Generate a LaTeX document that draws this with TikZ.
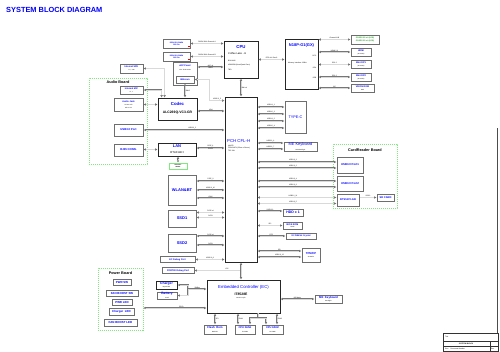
\documentclass[tikz,border=0pt]{standalone}
\usepackage{fontspec}
\setmainfont{Liberation Sans}
\usepackage{tikz}
\usetikzlibrary{arrows.meta}
\definecolor{inkblue}{HTML}{0000FF}
\definecolor{brdgreen}{HTML}{7FE87F}
\definecolor{ramgreen}{HTML}{1FA01F}
\definecolor{busgray}{HTML}{767676}
\definecolor{boxgray}{HTML}{6E6E6E}
\newcommand\fsize[2]{\fontsize{#1}{#2}\selectfont}
\newcommand\tinyline[1]{{\fsize{1.5}{1.9}\mdseries\color{black}#1}}

\begin{document}
\begin{tikzpicture}[x=1pt,y=-1pt,
  box/.style={draw=boxgray,line width=1pt,fill=white,inner sep=0pt,align=center,
              text=inkblue,font={\fsize{2.3}{2.8}\bfseries}},
  chip/.style={draw=black!85,line width=0.8pt,fill=white,inner sep=0pt,align=center},
  board/.style={draw=brdgreen,line width=0.5pt,dash pattern=on 1.2pt off 0.8pt,inner sep=0pt},
  bus/.style={draw=busgray,double=white!85!black,double distance=0.6pt,line width=0.5pt},
  link/.style={bus,{Latex[open,length=2.4pt,width=2.6pt]}-{Latex[open,length=2.4pt,width=2.6pt]}},
  lto/.style={bus,-{Latex[open,length=2.4pt,width=2.6pt]}},
  lfrom/.style={bus,{Latex[open,length=2.4pt,width=2.6pt]}-},
  tag/.style={font={\fsize{1.7}{2}},inner sep=0.5pt},
  hd/.style={text=inkblue,font={\fsize{4.3}{5}\bfseries},inner sep=0pt},
  note/.style={font={\fsize{1.7}{2.2}},inner sep=0pt,align=left,anchor=west},
  brdname/.style={font={\fsize{3.8}{4}\bfseries},inner sep=0pt}
]
\fill[white] (0,0) rectangle (500,351);
\useasboundingbox (0,0) rectangle (500,351);

% title
\node[anchor=west,text=inkblue,font={\fsize{7.4}{8}\bfseries},inner sep=0pt] (title) at (6,10) {SYSTEM BLOCK DIAGRAM};

% boards
\node[board,minimum width=58pt,minimum height=86pt] (audbrd) at (118,121) {};
\node[brdname] (audlbl) at (118,82.5) {Audio Board};
\node[board,minimum width=64pt,minimum height=64pt] (cardbrd) at (365,176) {};
\node[brdname] (cardlbl) at (365,150) {CardReader Board};
\node[board,minimum width=45pt,minimum height=62pt] (pwrbrd) at (120.5,299) {};
\node[brdname] (pwrlbl) at (120.5,273) {Power Board};

% memory, cpu, gpu
\node[box,minimum width=27pt,minimum height=9pt,font={\fsize{1.8}{2.2}\bfseries}] (dimma) at (176.5,43.5) {DDR4 SO-DIMM\\260 Pin};
\node[box,minimum width=27pt,minimum height=9pt,font={\fsize{1.8}{2.2}\bfseries}] (dimmb) at (176.5,56.5) {DDR4 SO-DIMM\\260 Pin};
\fill[red] ([shift={(-2.5pt,1.2pt)}]dimma.south east) rectangle ++(1.6,-1.6);
\fill[red] ([shift={(-2.5pt,1.2pt)}]dimmb.south east) rectangle ++(1.6,-1.6);

\node[chip,minimum width=34pt,minimum height=37pt] (cpu) at (241,59.5) {};
\node[hd] (cpuhd) at (241,47) {CPU};
\node[note,font={\fsize{2.6}{3}}] (cpuname) at (228,54) {Coffee Lake - H};
\node[note] (cpupkg) at (228,61) {BGA1440};
\node[note] (cpupwr) at (228,65.5) {45W/35W (Hexa/Quad Core)};
\node[note] (cpuver) at (228,70) {TBD};

\node[chip,minimum width=33pt,minimum height=50pt] (gpu) at (301.5,64) {};
\node[hd,font={\fsize{4}{5}\bfseries}] (gpuhd) at (301.5,45) {N18P-G1(GX)};
\node[note] (gpumem) at (288,63) {Memory Interface 128bit};
\node[tag,anchor=east] (gpudpc) at (317,56) {DPC};
\node[tag,anchor=east] (gpudpa) at (317,68) {DPA};
\node[tag,anchor=east] (gpudpb) at (317,78) {DPB};

\node[box,minimum width=28pt,minimum height=9pt,text=ramgreen,font={\fsize{1.9}{2.3}\bfseries}] (vram) at (365,39.5) {GDDR5 2G x4 (4GB)\\GDDR5 2G x4 (4GB)};
\node[box,minimum width=20pt,minimum height=8pt] (hdmi) at (361,52) {HDMI\\\tinyline{(4K 60Hz)}};
\node[box,minimum width=20pt,minimum height=7.5pt] (mdpa) at (361,64.5) {Mini DP1\\\tinyline{(4K 60Hz)}};
\node[box,minimum width=20pt,minimum height=8pt] (mdpb) at (361,77) {Mini DP2\\\tinyline{(4K 60Hz)}};
\node[box,minimum width=23pt,minimum height=8pt] (vbios) at (362.5,88) {VBIOS ROM\\\tinyline{4Mb}};

% audio, panel
\node[box,minimum width=23pt,minimum height=9pt] (spk) at (131.5,68.5) {Internal SPK\\\tinyline{R , L 2W}};
\node[box,minimum width=23pt,minimum height=8pt] (mic) at (131.5,90) {Internal MIC\\\tinyline{R , L}};
\node[box,minimum width=29pt,minimum height=13pt] (jack) at (128.5,104.5) {Audio Jack\\\tinyline{HP Out L/R}\\\tinyline{Mic In L/R}};
\node[box,minimum width=29pt,minimum height=12pt,font={\fsize{2.8}{3.2}\bfseries}] (usbp) at (128.5,130) {USB3.0 Port};
\node[box,minimum width=29pt,minimum height=12pt,font={\fsize{2.8}{3.2}\bfseries}] (rj45) at (128.5,150) {RJ45 CONN.};

\node[chip,minimum width=39pt,minimum height=22pt] (codec) at (177.5,109) {};
\node[hd] (codechd) at (177.5,104) {Codec};
\node[font={\fsize{3.4}{4}\bfseries},inner sep=0pt] (codecid) at (177.5,112.5) {ALC269Q-VC3-GR};

\node[box,minimum width=24pt,minimum height=23pt] (edp) at (185,73.5) {};
\node[text=inkblue,font={\fsize{2.3}{2.8}\bfseries},inner sep=0pt] (edphd) at (185,65.5) {eDP Panel};
\node[inner sep=0pt] (edpsub) at (185,69.5) {\tinyline{15.6'' FHD 144Hz}};
\node[box,minimum width=18pt,minimum height=7pt] (webcam) at (185,79.5) {Webcam};

% pch and left side
\node[chip,minimum width=32pt,minimum height=165pt] (pch) at (241,179.5) {};
\node[text=inkblue,font={\fsize{4.3}{5}},inner sep=0pt,anchor=west] (pchhd) at (227,141) {PCH CFL-H};
\node[note] (pchsku) at (228,145.5) {HM370};
\node[note] (pchpkg) at (228,148) {FCBGA874 (25mm x 24mm)};
\node[note] (pchpwr) at (228,150.5) {TDP 3W};

\node[chip,minimum width=38pt,minimum height=13pt] (lan) at (177,149.5) {};
\node[hd,font={\fsize{4}{5}\bfseries}] (lanhd) at (177,146) {LAN};
\node[font={\fsize{2.8}{3.2}},inner sep=0pt] (lanid) at (177,152.5) {RTL8111H};
\node[box,draw=brdgreen,line width=0.7pt,minimum width=18pt,minimum height=6pt,text=black,font={\fsize{1.5}{1.8}\bfseries}] (xtal) at (178,166) {CRYSTAL\\25MHz};
\node[box,minimum width=28pt,minimum height=30pt,font={\fsize{4}{5}\bfseries}] (wlan) at (182,190) {WLAN\&BT};
\node[box,minimum width=28pt,minimum height=17pt,font={\fsize{4}{5}\bfseries}] (ssda) at (182,218.5) {SSD1};
\node[box,minimum width=28pt,minimum height=18pt,font={\fsize{4}{5}\bfseries}] (ssdb) at (182,243) {SSD2};
\node[box,minimum width=35pt,minimum height=6pt] (kbdbg) at (177.5,259.5) {EC Debug Port};
\node[box,minimum width=32pt,minimum height=6pt] (dbg80) at (178,270.5) {PORT80 Debug Port};

% ec and around
\node[chip,minimum width=73pt,minimum height=33pt] (ec) at (243.5,296.5) {};
\node[text=inkblue,font={\fsize{4.3}{5}},inner sep=0pt] (echd) at (243.5,287.5) {Embedded Controller (EC)};
\node[font={\fsize{3.4}{4}\bfseries},inner sep=0pt] (ecid) at (241,294) {IT8528E};
\node[inner sep=0pt] (ecpkg) at (241,298.5) {\tinyline{128 Pin LQFP}};

\node[chip,line width=1pt,minimum width=21pt,minimum height=8pt,text=inkblue,font={\fsize{3.3}{3.3}\bfseries}] (chg) at (166.5,285) {Charger\\\tinyline{BQ24780S}};
\node[box,minimum width=20pt,minimum height=7pt,font={\fsize{3.3}{3.3}\bfseries}] (batt) at (167,295.5) {Battery\\\tinyline{3 Cell}};

\node[box,minimum width=22pt,minimum height=9pt,font={\fsize{2.8}{3.2}\bfseries}] (flash) at (215,329.5) {Flash\ \ Rom\\\tinyline{8Mb SPI}};
\node[box,minimum width=20pt,minimum height=9pt,font={\fsize{2.6}{3.2}\bfseries}] (fana) at (245,329.5) {CPU FAN1\\\tinyline{5V PWM}};
\node[box,minimum width=21pt,minimum height=9pt,font={\fsize{2.6}{3.2}\bfseries}] (fanb) at (272.5,329.5) {CPU FAN2\\\tinyline{5V PWM}};
\node[box,minimum width=27pt,minimum height=8pt,font={\fsize{2.8}{3.2}\bfseries}] (kbint) at (328.5,299) {ME\ \ Keyboard\\\tinyline{Backlight}};

\node[box,minimum width=18pt,minimum height=6pt,font={\fsize{2.9}{3.2}\bfseries}] (pwrsw) at (122,282) {PWR SW};
\node[box,minimum width=32pt,minimum height=6pt,font={\fsize{2.9}{3.2}\bfseries}] (boostsw) at (122,293) {FAN BOOST SW};
\node[box,minimum width=20pt,minimum height=6pt,font={\fsize{2.9}{3.2}\bfseries}] (pwrled) at (122,302) {PWR LED};
\node[box,minimum width=25pt,minimum height=7pt,font={\fsize{2.9}{3.2}\bfseries}] (chgled) at (121.5,311.5) {Charger\ \ LED};
\node[box,minimum width=33pt,minimum height=7pt,font={\fsize{2.9}{3.2}\bfseries}] (boostled) at (120.5,322.5) {FAN BOOST LED};

% right of pch
\node[box,minimum width=21pt,minimum height=32pt,font={\fsize{3.8}{4.5}}] (typec) at (295.5,117) {TYPE-C};
\node[box,minimum width=33pt,minimum height=9pt,font={\fsize{3.9}{4.5}}] (mekb) at (300.5,146.5) {ME Keyboard\\\tinyline{RGB Backlight}};
\node[box,minimum width=26pt,minimum height=16pt,font={\fsize{2.8}{3}\bfseries}] (usbca) at (350,165) {USB3.0 Port1};
\node[box,minimum width=26pt,minimum height=15pt,font={\fsize{2.8}{3}\bfseries}] (usbcb) at (350,183.5) {USB3.0 Port2};
\node[box,minimum width=22pt,minimum height=12pt,font={\fsize{2.6}{3}\bfseries}] (rts) at (348,200) {RTS5170-GR};
\node[box,minimum width=17pt,minimum height=7pt,font={\fsize{2.6}{3}\bfseries}] (sdcard) at (385.5,197.5) {SD CARD};
\node[box,minimum width=20pt,minimum height=7pt,font={\fsize{3.5}{4}\bfseries}] (hdd) at (293,212.5) {HDD x 1};
\node[box,minimum width=19pt,minimum height=7pt,font={\fsize{2.3}{2.6}\bfseries}] (biosrom) at (292.5,225.5) {BIOS ROM\\\tinyline{16Mb}};
\node[box,minimum width=30pt,minimum height=6pt,font={\fsize{2.2}{2.6}\bfseries}] (rtcx) at (301,236) {32.768KHz Crystal};
\node[box,minimum width=18pt,minimum height=14pt,font={\fsize{2.8}{3.2}\bfseries}] (tpm) at (311,255) {TPM/FP\\\tinyline{SLB9670}};

% memory and graphics links
\draw[link] (dimma) -- (dimma -| cpu.west) node[tag,above,midway] {DDR4 2666 Channel A};
\draw[link] (dimmb) -- (dimmb -| cpu.west) node[tag,above,midway] {DDR4 2666 Channel B};
\draw[link] ([yshift=6.5pt]edp.east) -- ([yshift=6.5pt]edp.east -| cpu.west)
  node[tag,above,midway] {eDP x4} node[tag,below,midway] {HBR2};
\draw[link] (cpu.east) -- (cpu.east -| gpu.west) node[tag,above,midway] {PEG x16 Gen3};
\draw[link] (cpu.south) -- (pch.north) node[tag,right,midway] {DMI x4};
\draw[link] (gpu.east |- vram) -- (vram) node[tag,above,midway] {Channel A/B};
\draw[link] (gpu.east |- hdmi) -- (hdmi) node[tag,above,midway] {HDMI 2.0};
\draw[link] (gpu.east |- mdpa) -- (mdpa) node[tag,above,midway] {DP1.2};
\draw[link] (gpu.east |- mdpb) -- (mdpb) node[tag,above,midway] {DP1.2};
\draw[link] (gpu.east |- vbios) -- (vbios) node[tag,above,midway] {I2C};

% audio links
\draw[link] (spk.east) -| ([xshift=7pt]codec.north west);
\draw[link] (mic.east) -| ([xshift=4pt]codec.north west);
\draw[link] (jack.east) -- (jack.east -| codec.west);
\draw[link] (webcam.south) -- (webcam.south |- codec.north) node[tag,right,midway] {DMIC};
\draw[link] ([yshift=-2pt]codec.east) -- ([yshift=-2pt]codec.east -| pch.west) node[tag,above,midway] {HDA};
\draw[link] (webcam.east) -| ([xshift=-15pt,yshift=-4pt]pch.north west) -- ([yshift=-4pt]pch.north west) node[tag,above,midway] {USB2.0\_5};

% left of pch
\draw[link] (usbp.east) -- (usbp.east -| pch.west) node[tag,above,pos=0.6] {USB3.0\_2};
\draw[link] ([yshift=1.5pt]lan.east) -- ([yshift=1.5pt]lan.east -| pch.west) node[tag,above,midway] {PCIE\_6} node[tag,below,midway] {GLAN};
\draw[link] (lan.west) -- (lan.west -| rj45.east);
\draw[link] (xtal.north |- lan.south) -- (xtal.north);
\draw[link] ([yshift=9pt]wlan.east) -- ([yshift=9pt]wlan.east -| pch.west) node[tag,above,midway] {PCIE\_9};
\draw[link] (wlan.east) -- (wlan.east -| pch.west) node[tag,above,midway] {USB2.0\_10};
\draw[link] ([yshift=-8pt]wlan.east) -- ([yshift=-8pt]wlan.east -| pch.west) node[tag,above,midway] {CNVi};
\draw[link] ([yshift=6pt]ssda.east) -- ([yshift=6pt]ssda.east -| pch.west) node[tag,above,midway] {PCIE x4};
\draw[link] ([yshift=1pt]ssda.east) -- ([yshift=1pt]ssda.east -| pch.west) node[tag,above,midway] {SATA};
\draw[link] ([yshift=7pt]ssdb.east) -- ([yshift=7pt]ssdb.east -| pch.west) node[tag,above,midway] {PCIE x4};
\draw[link] ([yshift=-2pt]ssdb.east) -- ([yshift=-2pt]ssdb.east -| pch.west) node[tag,above,midway] {SATA};
\draw[link] (kbdbg.east) -- (kbdbg.east -| pch.west) node[tag,above,midway] {USB2.0\_8};
\draw[lfrom] (dbg80.east) -- (dbg80.east -| pch.south) node[tag,above,pos=0.7] {LPC};
\draw[link] (pch.south) -- (pch.south |- ec.north);

% ec links
\coordinate (smb) at (188,289);
\draw[lfrom] (chg.east) -| (smb);
\draw[lfrom] (batt.east) -| (smb);
\draw[lto] (smb) -- (smb -| ec.west) node[tag,above,midway] {SMBus};
\draw[link] ([yshift=-11.5pt]ec.west) -- ([yshift=-11.5pt]ec.west -| pwrbrd.east) node[tag,above,pos=0.4] {GPIO};
\draw[link] ([yshift=-2.5pt]ec.east) -- ([yshift=-2.5pt]ec.east -| kbint.west) node[tag,above,midway] {KB Matrix};
\draw[link] (flash.north |- ec.south) -- (flash.north) node[tag,right,midway] {SPI};
\draw[link] ([xshift=-7pt]fana.north |- ec.south) -- ([xshift=-7pt]fana.north) node[tag,right,midway] {FAN1};
\coordinate (fanfork) at (258,318);
\draw[bus] (fanfork |- ec.south) -- (fanfork);
\draw[lto] (fanfork) -| ([xshift=5pt]fana.north);
\draw[lto] (fanfork) -| ([xshift=-6.5pt]fanb.north);
\draw[link] ([xshift=4.5pt]fanb.north |- ec.south) -- ([xshift=4.5pt]fanb.north) node[tag,right,midway] {FAN2};

% right of pch links
\draw[link] ([yshift=10pt]typec.west -| pch.east) -- ([yshift=10pt]typec.west) node[tag,above,midway] {USB3.1\_1};
\draw[link] ([yshift=3pt]typec.west -| pch.east) -- ([yshift=3pt]typec.west) node[tag,above,midway] {USB2.0\_3};
\draw[link] ([yshift=-4pt]typec.west -| pch.east) -- ([yshift=-4pt]typec.west) node[tag,above,midway] {USB3.1\_2};
\draw[link] ([yshift=-11pt]typec.west -| pch.east) -- ([yshift=-11pt]typec.west) node[tag,above,midway] {USB2.0\_4};
\draw[link] ([yshift=3.5pt]mekb.west -| pch.east) -- ([yshift=3.5pt]mekb.west) node[tag,above,midway] {USB2.0\_6};
\draw[link] ([yshift=-2.5pt]mekb.west -| pch.east) -- ([yshift=-2.5pt]mekb.west) node[tag,above,midway] {USB2.0\_7};
\draw[link] ([yshift=3pt]usbca.west -| pch.east) -- ([yshift=3pt]usbca.west) node[tag,above,pos=0.45] {USB3.0\_3};
\draw[link] ([yshift=-3pt]usbca.west -| pch.east) -- ([yshift=-3pt]usbca.west) node[tag,above,pos=0.45] {USB2.0\_2};
\draw[link] ([yshift=2.5pt]usbcb.west -| pch.east) -- ([yshift=2.5pt]usbcb.west) node[tag,above,pos=0.45] {USB3.0\_4};
\draw[link] ([yshift=-3.5pt]usbcb.west -| pch.east) -- ([yshift=-3.5pt]usbcb.west) node[tag,above,pos=0.45] {USB2.0\_9};
\draw[link] ([yshift=2.5pt]rts.west -| pch.east) -- ([yshift=2.5pt]rts.west) node[tag,above,pos=0.45] {USB2.0\_11};
\draw[link] ([yshift=-3.5pt]rts.west -| pch.east) -- ([yshift=-3.5pt]rts.west) node[tag,above,pos=0.45] {USB3.0\_5};
\draw[lto] (rts.east |- sdcard.west) -- (sdcard.west) node[tag,above,midway] {SD3.0};
\draw[link] ([yshift=1.5pt]hdd.west -| pch.east) -- ([yshift=1.5pt]hdd.west) node[tag,above,midway] {SATA3.0};
\draw[link] (biosrom.west -| pch.east) -- (biosrom.west) node[tag,above,midway] {SPI};
\draw[link] (rtcx.west -| pch.east) -- (rtcx.west) node[tag,above,midway] {RTC};
\draw[link] ([yshift=4pt]tpm.west -| pch.east) -- ([yshift=4pt]tpm.west) node[tag,above,midway] {SPI};
\draw[link] ([yshift=-2pt]tpm.west -| pch.east) -- ([yshift=-2pt]tpm.west) node[tag,above,midway] {USB2.0\_12};

% frame and title block
\draw[black!70,line width=0.5pt] (497,128) -- (497,333);
\draw[black!80,line width=0.5pt] (443,333) rectangle (498,351);
\draw[black!80,line width=0.3pt] (443,341.5) -- (498,341.5) (443,346.5) -- (498,346.5) (490,341.5) -- (490,351);
\node[note] (tbtitle) at (445,337) {Title};
\node[font={\fsize{1.8}{2}\bfseries},inner sep=0pt] (tbname) at (466,344) {SYSTEM BLOCK};
\node[note] (tbsize) at (445,349) {Size \quad Document Number};
\node[note] (tbrev) at (491,349) {Rev};
\end{tikzpicture}
\end{document}
